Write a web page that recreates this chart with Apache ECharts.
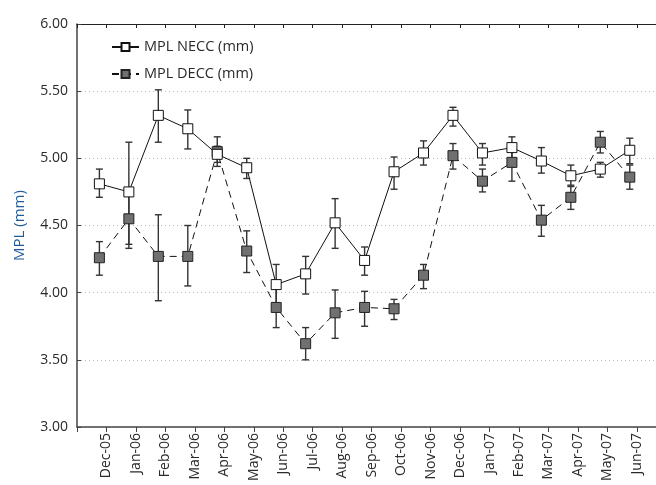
<!DOCTYPE html>
<html>
<head>
<meta charset="utf-8">
<script src="https://cdn.jsdelivr.net/npm/echarts@6/dist/echarts.min.js"></script>
<style>
  html, body { margin: 0; padding: 0; background: #fff; }
  #chart { width: 656px; height: 485px; }
</style>
</head>
<body>
<div id="chart"></div>
<script>
// Sampling months
const months = ['Dec-05', 'Jan-06', 'Feb-06', 'Mar-06', 'Apr-06', 'May-06', 'Jun-06', 'Jul-06',
  'Aug-06', 'Sep-06', 'Oct-06', 'Nov-06', 'Dec-06', 'Jan-07', 'Feb-07', 'Mar-07', 'Apr-07',
  'May-07', 'Jun-07'];

// MPL NECC (mm): mean with lower / upper error limits
const neccMean = [4.81, 4.75, 5.32, 5.22, 5.03, 4.93, 4.06, 4.14, 4.52, 4.24, 4.90, 5.04, 5.32, 5.04, 5.08, 4.98, 4.87, 4.92, 5.06];
const neccLow  = [4.71, 4.33, 5.12, 5.07, 4.97, 4.85, 3.92, 3.99, 4.33, 4.13, 4.77, 4.95, 5.24, 4.95, 5.00, 4.89, 4.80, 4.86, 4.96];
const neccHigh = [4.92, 5.12, 5.51, 5.36, 5.09, 5.00, 4.21, 4.27, 4.70, 4.34, 5.01, 5.13, 5.38, 5.11, 5.16, 5.08, 4.95, 4.97, 5.15];

// MPL DECC (mm): mean with lower / upper error limits
const deccMean = [4.26, 4.55, 4.27, 4.27, 5.05, 4.31, 3.89, 3.62, 3.85, 3.89, 3.88, 4.13, 5.02, 4.83, 4.97, 4.54, 4.71, 5.12, 4.86];
const deccLow  = [4.13, 4.36, 3.94, 4.05, 4.94, 4.15, 3.74, 3.50, 3.66, 3.75, 3.80, 4.03, 4.92, 4.75, 4.83, 4.42, 4.62, 5.04, 4.77];
const deccHigh = [4.38, 4.74, 4.58, 4.50, 5.16, 4.46, 4.03, 3.74, 4.02, 4.01, 3.95, 4.21, 5.11, 4.92, 5.11, 4.65, 4.79, 5.20, 4.95];

// Y axis ticks
const yMin = 3, yMax = 6, yStep = 0.5;

// Markers sit slightly left of each month tick
const POINT_SHIFT = -0.24;

const FONT = 'Open Sans';
const TEXT = '#2a2a2a';

const chart = echarts.init(document.getElementById('chart'), null, { renderer: 'canvas' });

const meanPoints = arr => arr.map((v, i) => [i + POINT_SHIFT, v]);
const errPoints = (lo, hi) => lo.map((v, i) => [i + POINT_SHIFT, v, hi[i]]);

function errorBar(params, api) {
  const x = api.value(0);
  const lo = api.coord([x, api.value(1)]);
  const hi = api.coord([x, api.value(2)]);
  const w = 3.5;
  const style = { stroke: '#333', lineWidth: 1.4 };
  return {
    type: 'group',
    children: [
      { type: 'line', shape: { x1: lo[0], y1: lo[1], x2: hi[0], y2: hi[1] }, style },
      { type: 'line', shape: { x1: lo[0] - w, y1: lo[1], x2: lo[0] + w, y2: lo[1] }, style },
      { type: 'line', shape: { x1: hi[0] - w, y1: hi[1], x2: hi[0] + w, y2: hi[1] }, style }
    ]
  };
}

const monthLabel = v => {
  const r = Math.round(v);
  return Math.abs(v - r) < 1e-6 && months[r] !== undefined ? months[r] : '';
};

const xCommon = {
  type: 'value',
  min: -1,
  max: 18.65,
  interval: 1,
  splitLine: { show: false }
};

chart.setOption({
  animation: false,
  backgroundColor: '#fff',
  grid: { left: 77, right: 0, top: 24, bottom: 58, containLabel: false },
  legend: {
    orient: 'vertical',
    left: 106,
    top: 34,
    itemWidth: 27,
    itemHeight: 10,
    itemGap: 11,
    data: ['MPL NECC (mm)', 'MPL DECC (mm)'],
    textStyle: { fontFamily: FONT, fontSize: 14.5, color: TEXT, lineHeight: 16 }
  },
  xAxis: [
    Object.assign({}, xCommon, {
      position: 'bottom',
      axisLine: { show: true, onZero: false, lineStyle: { color: '#444', width: 1.5 } },
      axisTick: { show: true, length: 5, lineStyle: { color: '#444', width: 1 } },
      axisLabel: {
        rotate: 90,
        margin: 6,
        fontFamily: FONT,
        fontSize: 14,
        color: TEXT,
        formatter: monthLabel
      }
    }),
    Object.assign({}, xCommon, {
      position: 'top',
      axisLine: { show: true, onZero: false, lineStyle: { color: '#222', width: 1.2 } },
      axisTick: { show: true, inside: true, length: 4, lineStyle: { color: '#222', width: 1 } },
      axisLabel: { show: false }
    })
  ],
  yAxis: {
    type: 'value',
    min: yMin,
    max: yMax,
    interval: yStep,
    name: 'MPL (mm)',
    nameLocation: 'middle',
    nameGap: 50,
    nameTextStyle: { fontFamily: FONT, fontSize: 15, color: '#1f5c99' },
    axisLine: { show: true, onZero: false, lineStyle: { color: '#444', width: 1.5 } },
    axisTick: { show: true, inside: true, length: 4, lineStyle: { color: '#444' } },
    axisLabel: {
      margin: 9,
      fontFamily: FONT,
      fontSize: 14,
      color: TEXT,
      formatter: v => v.toFixed(2)
    },
    splitLine: { show: true, lineStyle: { color: '#bdbdbd', type: [1, 3], width: 1 } }
  },
  series: [
    {
      name: 'NECC error',
      type: 'custom',
      xAxisIndex: 0,
      renderItem: errorBar,
      encode: { x: 0, y: [1, 2] },
      data: errPoints(neccLow, neccHigh),
      z: 2,
      silent: true
    },
    {
      name: 'DECC error',
      type: 'custom',
      xAxisIndex: 0,
      renderItem: errorBar,
      encode: { x: 0, y: [1, 2] },
      data: errPoints(deccLow, deccHigh),
      z: 2,
      silent: true
    },
    {
      name: 'MPL NECC (mm)',
      type: 'line',
      xAxisIndex: 0,
      data: meanPoints(neccMean),
      symbol: 'rect',
      symbolSize: 10,
      lineStyle: { color: '#111', width: 1, type: 'solid' },
      itemStyle: { color: '#fff', borderColor: '#111', borderWidth: 1 },
      z: 4
    },
    {
      name: 'MPL DECC (mm)',
      type: 'line',
      xAxisIndex: 0,
      data: meanPoints(deccMean),
      symbol: 'rect',
      symbolSize: 10,
      lineStyle: { color: '#111', width: 1, type: [7, 5] },
      itemStyle: { color: '#707070', borderColor: '#222', borderWidth: 1 },
      z: 3
    }
  ]
});
</script>
</body>
</html>
